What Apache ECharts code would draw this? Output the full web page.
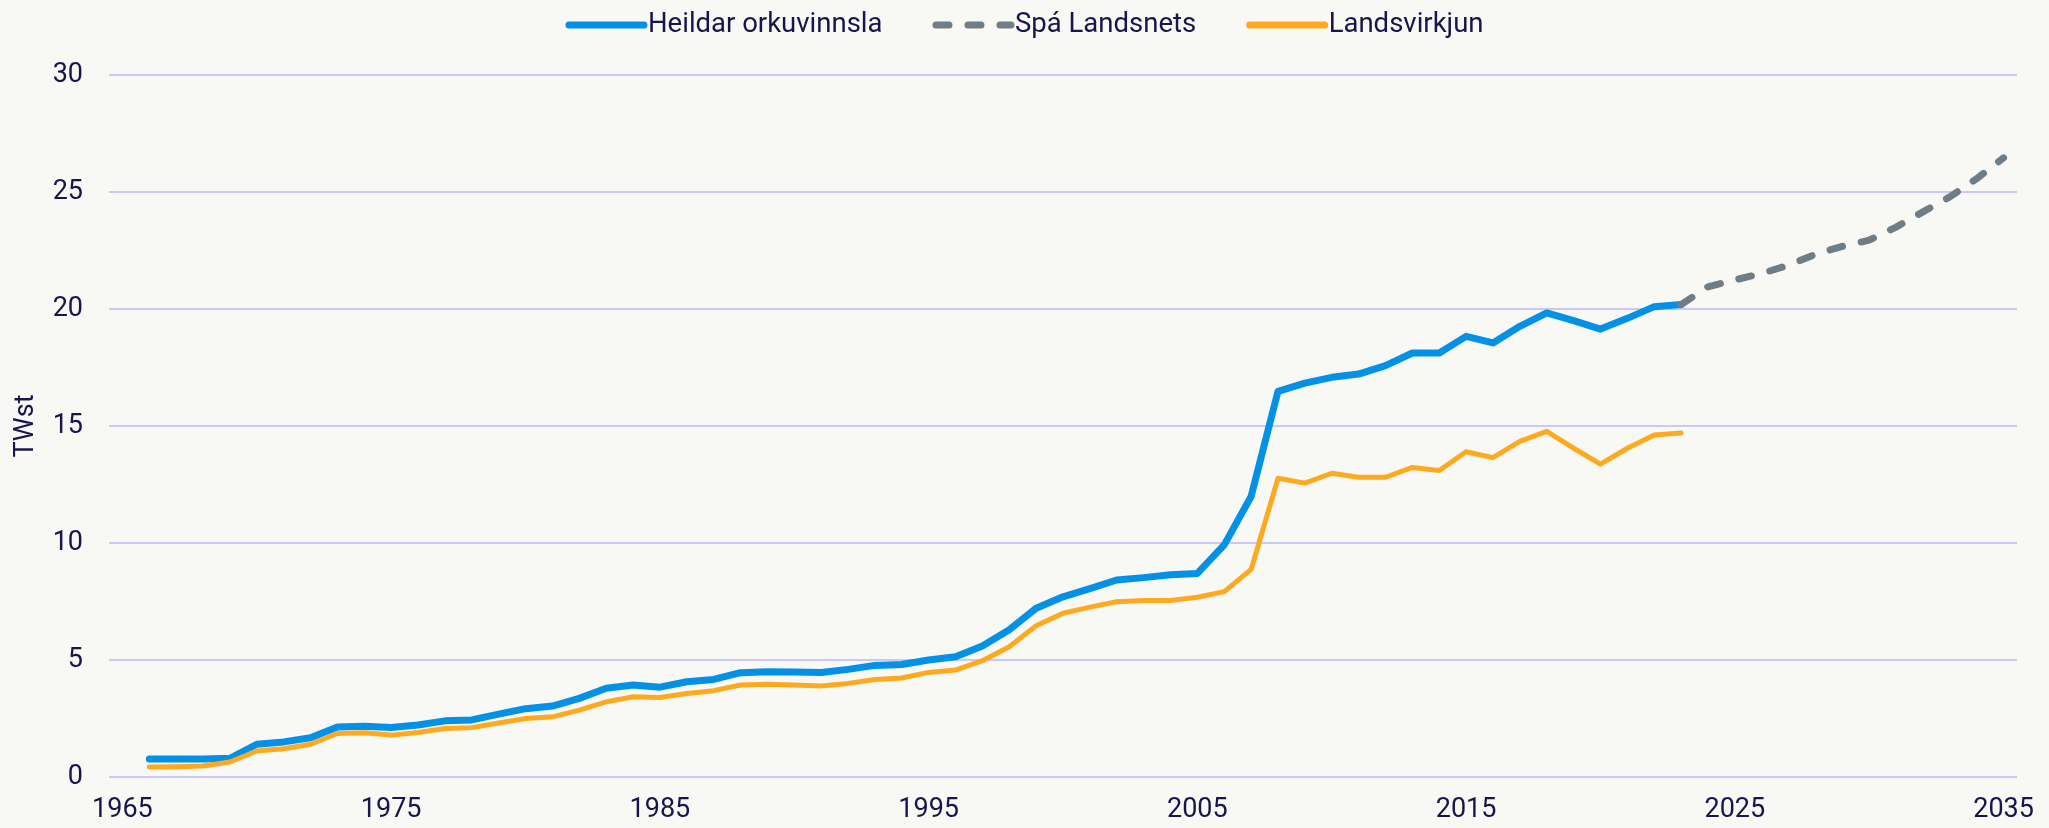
<!DOCTYPE html>
<html>
<head>
<meta charset="utf-8">
<title>Orkuvinnsla</title>
<script src="https://cdn.jsdelivr.net/npm/echarts@6/dist/echarts.min.js"></script>
<style>
    html, body { margin: 0; padding: 0; background: #f8f9f4; }
    #chart { width: 2049px; height: 828px; }
</style>
</head>
<body>
<div id="chart"></div>
<script>
    // ár á x-ás
    const firstYear = 1965;
    const lastYear = 2035;

    // Heildar orkuvinnsla, TWst, frá 1966
    const heildarStart = 1966;
    const heildar = [
        0.77, 0.77, 0.77, 0.8, 1.4, 1.5, 1.68, 2.14, 2.17, 2.12,
        2.22, 2.4, 2.44, 2.69, 2.92, 3.03, 3.36, 3.79, 3.93, 3.84,
        4.07, 4.17, 4.46, 4.5, 4.49, 4.47, 4.6, 4.77, 4.81, 5.0,
        5.14, 5.6, 6.29, 7.21, 7.7, 8.05, 8.42, 8.52, 8.64, 8.7,
        9.92, 11.99, 16.48, 16.83, 17.08, 17.22, 17.58, 18.12, 18.12, 18.83,
        18.55, 19.26, 19.83, 19.5, 19.14, 19.6, 20.1, 20.19
    ];

    // Spá Landsnets, frá 2023
    const spaStart = 2023;
    const spa = [20.19, 20.95, 21.24, 21.52, 21.87, 22.34, 22.68, 22.94, 23.5, 24.15, 24.79, 25.57, 26.46];

    // Landsvirkjun, frá 1966
    const lvStart = 1966;
    const landsvirkjun = [
        0.43, 0.44, 0.47, 0.64, 1.11, 1.21, 1.4, 1.86, 1.89, 1.79,
        1.9, 2.07, 2.11, 2.31, 2.5, 2.57, 2.86, 3.21, 3.43, 3.4,
        3.57, 3.69, 3.93, 3.96, 3.93, 3.89, 4.0, 4.17, 4.23, 4.47,
        4.57, 4.97, 5.57, 6.46, 7.0, 7.26, 7.49, 7.54, 7.54, 7.68,
        7.92, 8.87, 12.77, 12.56, 12.98, 12.81, 12.81, 13.23, 13.1, 13.9,
        13.65, 14.34, 14.77, 14.05, 13.37, 14.05, 14.62, 14.7
    ];

    const years = [];
    for (let y = firstYear; y <= lastYear; y++) years.push(String(y));

    // fylla upp með null svo röðin passi við árin
    function pad(start, values) {
        return years.map(function (y) {
            const i = Number(y) - start;
            return (i >= 0 && i < values.length) ? values[i] : null;
        });
    }

    const textColor = '#17154b';
    const fontFamily = 'Roboto, "Noto Sans", sans-serif';

    const myChart = echarts.init(document.getElementById('chart'));
    myChart.setOption({
        backgroundColor: '#f8f9f4',
        animation: false,
        textStyle: { fontFamily: fontFamily },
        legend: {
            top: 6,
            left: 'center',
            itemWidth: 75,
            itemHeight: 14,
            itemGap: 50,
            // engin punktur, bara þykk lína
            itemStyle: { opacity: 0 },
            lineStyle: { width: 7, cap: 'round' },
            textStyle: { color: textColor, fontSize: 27.5, fontFamily: fontFamily, padding: [0, 0, 0, -1] },
            data: ['Heildar orkuvinnsla', 'Spá Landsnets', 'Landsvirkjun']
        },
        grid: {
            left: 109,
            right: 32,
            top: 75,
            bottom: 51,
            containLabel: false
        },
        xAxis: {
            type: 'category',
            data: years,
            boundaryGap: true,
            axisLine: { show: false },
            axisTick: { show: false },
            axisLabel: {
                interval: 9,
                color: textColor,
                fontSize: 27,
                margin: 20
            }
        },
        yAxis: {
            type: 'value',
            min: 0,
            max: 30,
            interval: 5,
            name: 'TWst',
            nameLocation: 'middle',
            nameGap: 69,
            nameTextStyle: { color: textColor, fontSize: 27 },
            axisLine: { show: false },
            axisTick: { show: false },
            axisLabel: { color: textColor, fontSize: 27, margin: 26 },
            splitLine: { lineStyle: { color: '#cbc9f3', width: 2 } }
        },
        series: [
            {
                name: 'Heildar orkuvinnsla',
                type: 'line',
                data: pad(heildarStart, heildar),
                showSymbol: false,
                symbol: 'none',
                itemStyle: { color: '#0291e6' },
                lineStyle: { color: '#0291e6', width: 7, cap: 'round', join: 'round' }
            },
            {
                name: 'Spá Landsnets',
                type: 'line',
                data: pad(spaStart, spa),
                showSymbol: false,
                symbol: 'none',
                itemStyle: { color: '#6f7d87' },
                lineStyle: { color: '#6f7d87', width: 7, type: [13, 19], cap: 'round', join: 'round' }
            },
            {
                name: 'Landsvirkjun',
                type: 'line',
                data: pad(lvStart, landsvirkjun),
                showSymbol: false,
                symbol: 'none',
                itemStyle: { color: '#ffa920' },
                lineStyle: { color: '#ffa920', width: 5, cap: 'round', join: 'round' }
            }
        ]
    });
</script>
</body>
</html>
